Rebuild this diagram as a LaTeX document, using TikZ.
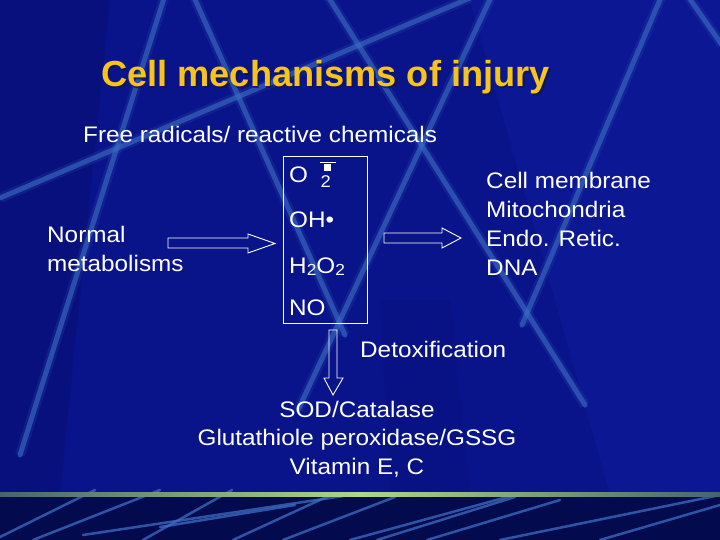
\documentclass[tikz,border=0pt]{standalone}
\usepackage{fontspec}
\setmainfont[FakeStretch=1.08]{Liberation Sans}
\newfontfamily\titlefont{Liberation Sans}
\definecolor{bgblue}{RGB}{10,20,138}
\definecolor{bgdark}{RGB}{4,10,100}
\definecolor{bgbright}{RGB}{16,30,165}
\definecolor{raycol}{RGB}{60,110,195}
\definecolor{bottomcol}{RGB}{3,10,78}
\definecolor{titlecol}{RGB}{245,196,30}
\definecolor{titleshadow}{RGB}{20,20,60}
\definecolor{greenline}{RGB}{175,215,135}
\definecolor{greendim}{RGB}{70,100,110}
\tikzset{
  ray/.style={draw=raycol, line width=5pt, opacity=.6, line cap=round,
    preaction={draw=raycol, line width=10pt, opacity=.15}},
  bray/.style={draw=raycol, line width=2.5pt, opacity=.75, line cap=round},
  txt/.style={text=white, inner sep=0pt, anchor=base west, font=\fontsize{22.5}{27}\selectfont},
  ctxt/.style={txt, anchor=base},
  sub/.style={text=white, inner sep=0pt, anchor=base west, font=\fontsize{17}{17}\selectfont},
  titletxt/.style={inner sep=0pt, anchor=base west, font=\titlefont\bfseries\fontsize{36.2}{40}\selectfont},
  blockarrow/.style={draw=white, line width=0.9pt, line join=miter},
  boxstyle/.style={draw=white, line width=0.9pt, minimum width=84pt, minimum height=167pt, inner sep=0pt}
}
\newcommand{\subtwo}{\raisebox{-2.5pt}{\fontsize{16}{16}\selectfont 2}}
\begin{document}
\begin{tikzpicture}[x=1pt,y=-1pt]
\useasboundingbox (0,0) rectangle (720,540);
% background
\fill[bgblue] (0,0) rectangle (720,540);
\fill[bgbright, opacity=.35] (470,0) -- (720,0) -- (720,494) -- (610,494) -- cycle;
\fill[bgdark, opacity=.3] (0,0) -- (110,0) -- (60,494) -- (0,494) -- cycle;
\fill[bgdark, opacity=.15] (380,300) -- (450,300) -- (470,494) -- (390,494) -- cycle;
% light rays
\draw[ray] (165,-5) -- (20,455);
\draw[ray] (193,-5) -- (345,335);
\draw[ray] (0,198) -- (470,-2);
\draw[ray] (327,-5) -- (585,405);
\draw[ray] (492,-5) -- (298,410);
\draw[ray] (662,-5) -- (522,325);
\draw[ray] (687,-5) -- (722,45);
% bottom strip
\fill[bottomcol] (0,494) rectangle (720,540);
\draw[bray] (0,537) -- (95,490);
\draw[bray] (33,540) -- (160,490);
\draw[bray] (143,540) -- (232,490);
\draw[bray] (83,535) -- (350,495);
\draw[bray] (160,527) -- (295,505);
\draw[bray] (233,540) -- (335,493);
\draw[bray] (283,540) -- (395,497);
\draw[bray] (350,540) -- (522,493);
\draw[bray] (377,540) -- (515,497);
\draw[bray] (427,540) -- (560,500);
\draw[bray] (500,540) -- (720,495);
\draw[bray] (600,540) -- (720,505);
\shade[left color=greendim, right color=greendim, middle color=greenline] (0,492.5) rectangle (720,496);

% title
\node[titletxt, text=titleshadow, opacity=.7] (titleshad) at (102.5,88.5) {Cell mechanisms of injury};
\node[titletxt, text=titlecol] (title) at (101,87) {Cell mechanisms of injury};

% texts
\node[txt] (free) at (83,143) {Free radicals/ reactive chemicals};
\node[txt] (normal) at (47,243) {Normal};
\node[txt] (metab) at (47,271) {metabolisms};

\node[boxstyle] (box) at (325,239.5) {};
\node[txt] (o2) at (289,183) {O};
\node[sub] (o2sub) at (320.5,188) {2};
\fill[white] (324,164) rectangle (331,171);
\draw[white, line width=0.9pt] (320,162) -- (336,162);
\node[txt] (oh) at (289,228) {OH•};
\node[txt] (h2o2) at (289,273) {H\subtwo O\subtwo};
\node[txt] (no) at (289,315) {NO};

\node[txt] (cm) at (486,189) {Cell membrane};
\node[txt] (mito) at (486,218) {Mitochondria};
\node[txt] (endo) at (486,247) {Endo. Retic.};
\node[txt] (dna) at (486,275) {DNA};

\node[txt] (detox) at (360,357) {Detoxification};
\node[ctxt] (sod) at (357,417) {SOD/Catalase};
\node[ctxt] (glut) at (357,445) {Glutathiole peroxidase/GSSG};
\node[ctxt] (vit) at (357,474) {Vitamin E, C};

% block arrows
\draw[blockarrow] (168,238) -- (248,238) -- (248,234) -- (275,243.5) -- (248,253) -- (248,248) -- (168,248) -- cycle;
\draw[blockarrow] (384,233) -- (442,233) -- (442,228) -- (461,238) -- (442,248) -- (442,243) -- (384,243) -- cycle;
\draw[blockarrow] (329,330) -- (337,330) -- (337,378) -- (343,378) -- (333,395) -- (324,378) -- (329,378) -- cycle;
\end{tikzpicture}
\end{document}
